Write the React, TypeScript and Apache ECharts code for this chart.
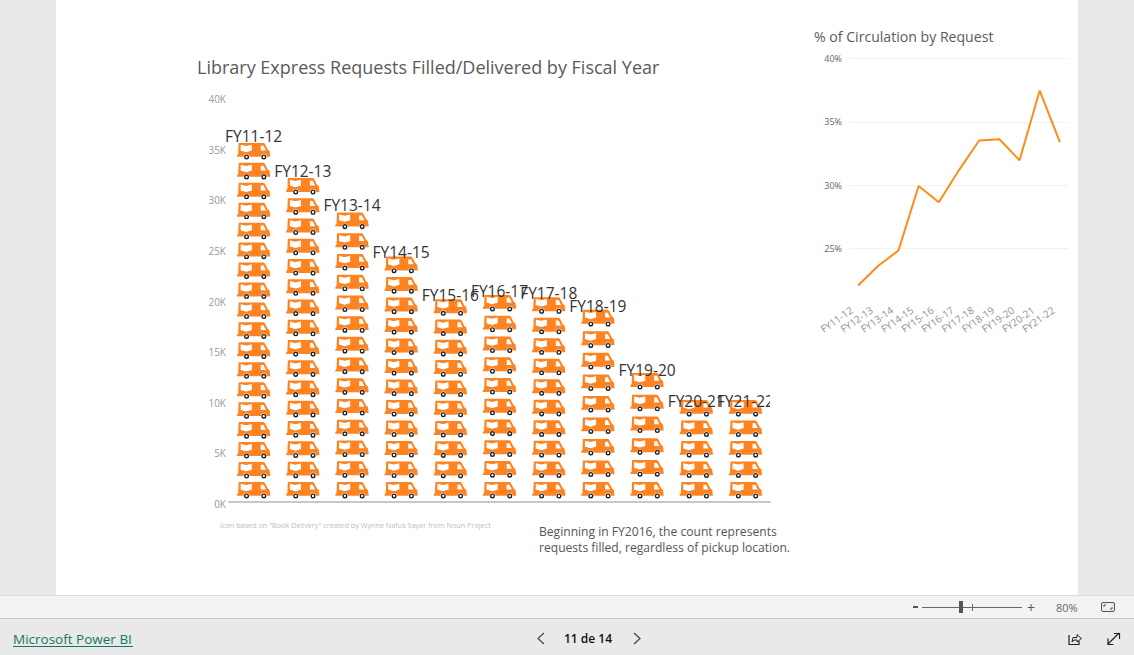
import React, { useEffect, useRef } from "react";
import * as echarts from "echarts";

const categories = ["FY11-12","FY12-13","FY13-14","FY14-15","FY15-16","FY16-17","FY17-18","FY18-19","FY19-20","FY20-21","FY21-22"];
const requestsK = [35.3, 31.8, 28.4, 23.8, 19.6, 20.0, 19.8, 18.5, 12.1, 9.1, 9.1];
const truckStackTopK = [35.16, 31.7, 28.28, 23.93, 19.72, 20.15, 19.92, 18.67, 12.44, 9.78, 9.78];
const truckCounts = [18, 16, 14, 12, 10, 10, 10, 9, 6, 5, 5];
const circulationPct = [22.1, 23.65, 24.86, 29.95, 28.67, 31.2, 33.53, 33.63, 31.98, 37.47, 33.4];

const FONT = '"Open Sans", sans-serif';
const ORANGE = "#FF8320";

const corners = "M0 0L0.01 0L0.01 0.01ZM33 17L33.01 17L33.01 17.01Z";
const disc = (c: number, y: number, r: number, sweep: number) =>
  `M${c - r} ${y}A${r} ${r} 0 1 ${sweep} ${c + r} ${y}A${r} ${r} 0 1 ${sweep} ${c - r} ${y}Z`;
const bodyPath =
  "M2 0L26.5 0L27.5 0.6L30.5 6.4L32.4 8L33 12.5L33 13.8L0 13.8L0 12.4L1.2 11L1.6 0.6Z" + corners;
const whitePath =
  "M3.7 1.8L9.2 3.1L14.7 1.8L14.8 7.6L9.2 9.2L3.6 7.6Z" +
  "M23.6 2.8L26.4 2.8L28.8 7.6L23.6 7.6Z" +
  disc(9.5, 13.9, 2.9, 1) + disc(26.7, 13.9, 2.9, 1) + corners;
const wheelPath =
  disc(9.5, 13.9, 2.5, 1) + disc(9.5, 13.9, 1.15, 0) +
  disc(26.7, 13.9, 2.5, 1) + disc(26.7, 13.9, 1.15, 0) + corners;

const truckData = truckStackTopK.map((value, i) => ({
  value,
  symbolRepeat: truckCounts[i],
  symbolBoundingData: value,
}));

const truckSeries = (path: string, color: string, z: number) => ({
  type: "pictorialBar",
  xAxisIndex: 0,
  yAxisIndex: 0,
  symbol: "path://" + path,
  symbolSize: [33, 17],
  symbolRepeat: true,
  symbolMargin: 0,
  symbolOffset: [0, -3],
  symbolPosition: "start",
  barGap: "-100%",
  itemStyle: { color },
  data: truckData,
  silent: true,
  z,
});

const txt = (text: string, x: number, y: number, size: number, fill: string, extra: object = {}, weight = "normal") => ({
  type: "text",
  z: 50,
  silent: true,
  style: { text, x, y, fill, font: `${weight} ${size}px ${FONT}`, textVerticalAlign: "middle", ...extra },
});
const rect = (x: number, y: number, width: number, height: number, fill: string, z = -10) => ({
  type: "rect", z, silent: true, shape: { x, y, width, height }, style: { fill },
});
const poly = (points: number[][], stroke: string, lineWidth = 1.2) => ({
  type: "polyline", z: 50, silent: true, shape: { points }, style: { stroke, lineWidth, fill: "none" },
});

const graphics = [
  rect(56, 0, 1022, 595, "#ffffff"),
  rect(0, 595, 1134, 23, "#f3f3f3"),
  rect(0, 595, 1134, 1, "#dcdcdc"),
  rect(0, 618, 1134, 1, "#c8c8c8"),
  rect(770, 392, 22, 22, "#ffffff", 60),
  rect(848, 50, 2, 210, "#ffffff", 1),
  rect(1068, 50, 2, 210, "#ffffff", 1),
  txt('Icon based on "Book Delivery" created by Wynne Nafus Sayer from Noun Project', 220, 525, 7.25, "#bdbdbd"),
  txt("Beginning in FY2016, the count represents", 539, 531.5, 12.1, "#555555"),
  txt("requests filled, regardless of pickup location.", 539, 547.5, 12.1, "#555555"),
  txt("Microsoft Power BI", 13, 639, 13.5, "#117865"),
  rect(13, 646, 120, 1, "#117865", 50),
  poly([[544, 633], [538, 638.5], [544, 644]], "#444444"),
  poly([[634, 633], [640, 638.5], [634, 644]], "#444444"),
  txt("11 de 14", 564, 638, 12, "#111111", {}, "600"),
  rect(913, 606, 5, 2, "#555555", 50),
  rect(922, 607, 100, 1, "#666666", 50),
  rect(959, 601, 4, 12, "#555555", 50),
  rect(972, 604, 1, 7, "#666666", 50),
  txt("+", 1027, 607, 14, "#555555"),
  txt("80%", 1056, 607, 11, "#666666"),
  {
    type: "rect", z: 50, silent: true,
    shape: { x: 1101.5, y: 602.5, width: 13, height: 9, r: 1.5 },
    style: { stroke: "#555555", lineWidth: 1, fill: "#eeeeee" },
  },
  poly([[1104, 607], [1104, 605], [1106, 605]], "#555555", 1),
  poly([[1112, 607], [1112, 609], [1110, 609]], "#555555", 1),
  poly([[1069, 635], [1069, 644.5], [1079, 644.5], [1079, 641]], "#222222"),
  poly([[1072, 642], [1073, 637.5], [1077, 637.5], [1077, 634.5], [1081.5, 638.5], [1077, 642], [1077, 640], [1074, 640], [1072, 642]], "#222222", 1),
  poly([[1108, 644], [1119, 633]], "#222222"),
  poly([[1114, 633.5], [1119.5, 633.5], [1119.5, 639]], "#222222"),
  poly([[1108, 638.5], [1108, 644.5], [1113.5, 644.5]], "#222222"),
];

const option = {
  animation: false,
  backgroundColor: "#e9e9e9",
  textStyle: { fontFamily: FONT },
  title: [
    {
      text: "Library Express Requests Filled/Delivered by Fiscal Year",
      left: 192, top: 53,
      textStyle: { fontFamily: FONT, fontSize: 18, fontWeight: "normal", color: "#5a5a5a" },
    },
    {
      text: "% of Circulation by Request",
      left: 809, top: 24,
      textStyle: { fontFamily: FONT, fontSize: 14.1, fontWeight: "normal", color: "#5a5a5a" },
    },
  ],
  grid: [
    { left: 229, top: 97, width: 541, height: 405 },
    { left: 848, top: 58.5, width: 222, height: 253.6 },
  ],
  xAxis: [
    {
      gridIndex: 0, type: "category", data: categories,
      axisLine: { lineStyle: { color: "#c8c8c8", width: 2 } },
      axisTick: { show: false }, axisLabel: { show: false },
    },
    {
      gridIndex: 1, type: "category", data: categories, offset: -12,
      axisLine: { show: false }, axisTick: { show: false },
      axisLabel: { rotate: 35, fontFamily: FONT, fontSize: 10, color: "#8f8f8f", margin: 4, interval: 0, padding: [0, 8, 0, 0] },
    },
  ],
  yAxis: [
    {
      gridIndex: 0, type: "value", min: 0, max: 40, interval: 5,
      axisLine: { show: false }, axisTick: { show: false }, splitLine: { show: false },
      axisLabel: {
        formatter: (v: number) => `${v}K`, fontFamily: FONT, fontSize: 10, color: "#999999", margin: 3,
        verticalAlign: "top", lineHeight: 4,
      },
    },
    {
      gridIndex: 1, type: "value", min: 20, max: 40, interval: 5,
      axisLine: { show: false }, axisTick: { show: false },
      splitLine: { show: true, showMinLine: false, lineStyle: { color: "#f1f1f1", width: 1 } },
      axisLabel: {
        showMinLabel: false,
        formatter: (v: number) => `${v}%`, fontFamily: FONT, fontSize: 9, color: "#666666", margin: 6,
      },
    },
  ],
  series: [
    truckSeries(bodyPath, ORANGE, 2),
    truckSeries(whitePath, "#ffffff", 3),
    truckSeries(wheelPath, "#222222", 4),
    {
      type: "bar", xAxisIndex: 0, yAxisIndex: 0, data: requestsK, barWidth: 33, barGap: "-100%", silent: true,
      itemStyle: { color: "rgba(0,0,0,0)" }, z: 5,
      label: {
        show: true, position: "top", distance: 1,
        formatter: (p: { name: string }) => p.name,
        fontFamily: FONT, fontSize: 15.5, color: "#333333",
      },
    },
    {
      type: "line", xAxisIndex: 1, yAxisIndex: 1, data: circulationPct,
      showSymbol: false, symbol: "none",
      lineStyle: { color: "#FF8C1A", width: 2 },
      z: 5,
    },
  ],
  graphic: graphics,
};

export default function App() {
  const ref = useRef<HTMLDivElement>(null);
  useEffect(() => {
    document.body.style.margin = "0";
    const chart = echarts.init(ref.current!, undefined, { renderer: "svg" });
    chart.setOption(option as any);
    return () => chart.dispose();
  }, []);
  return <div ref={ref} style={{ width: 1134, height: 655, overflow: "hidden" }} />;
}
